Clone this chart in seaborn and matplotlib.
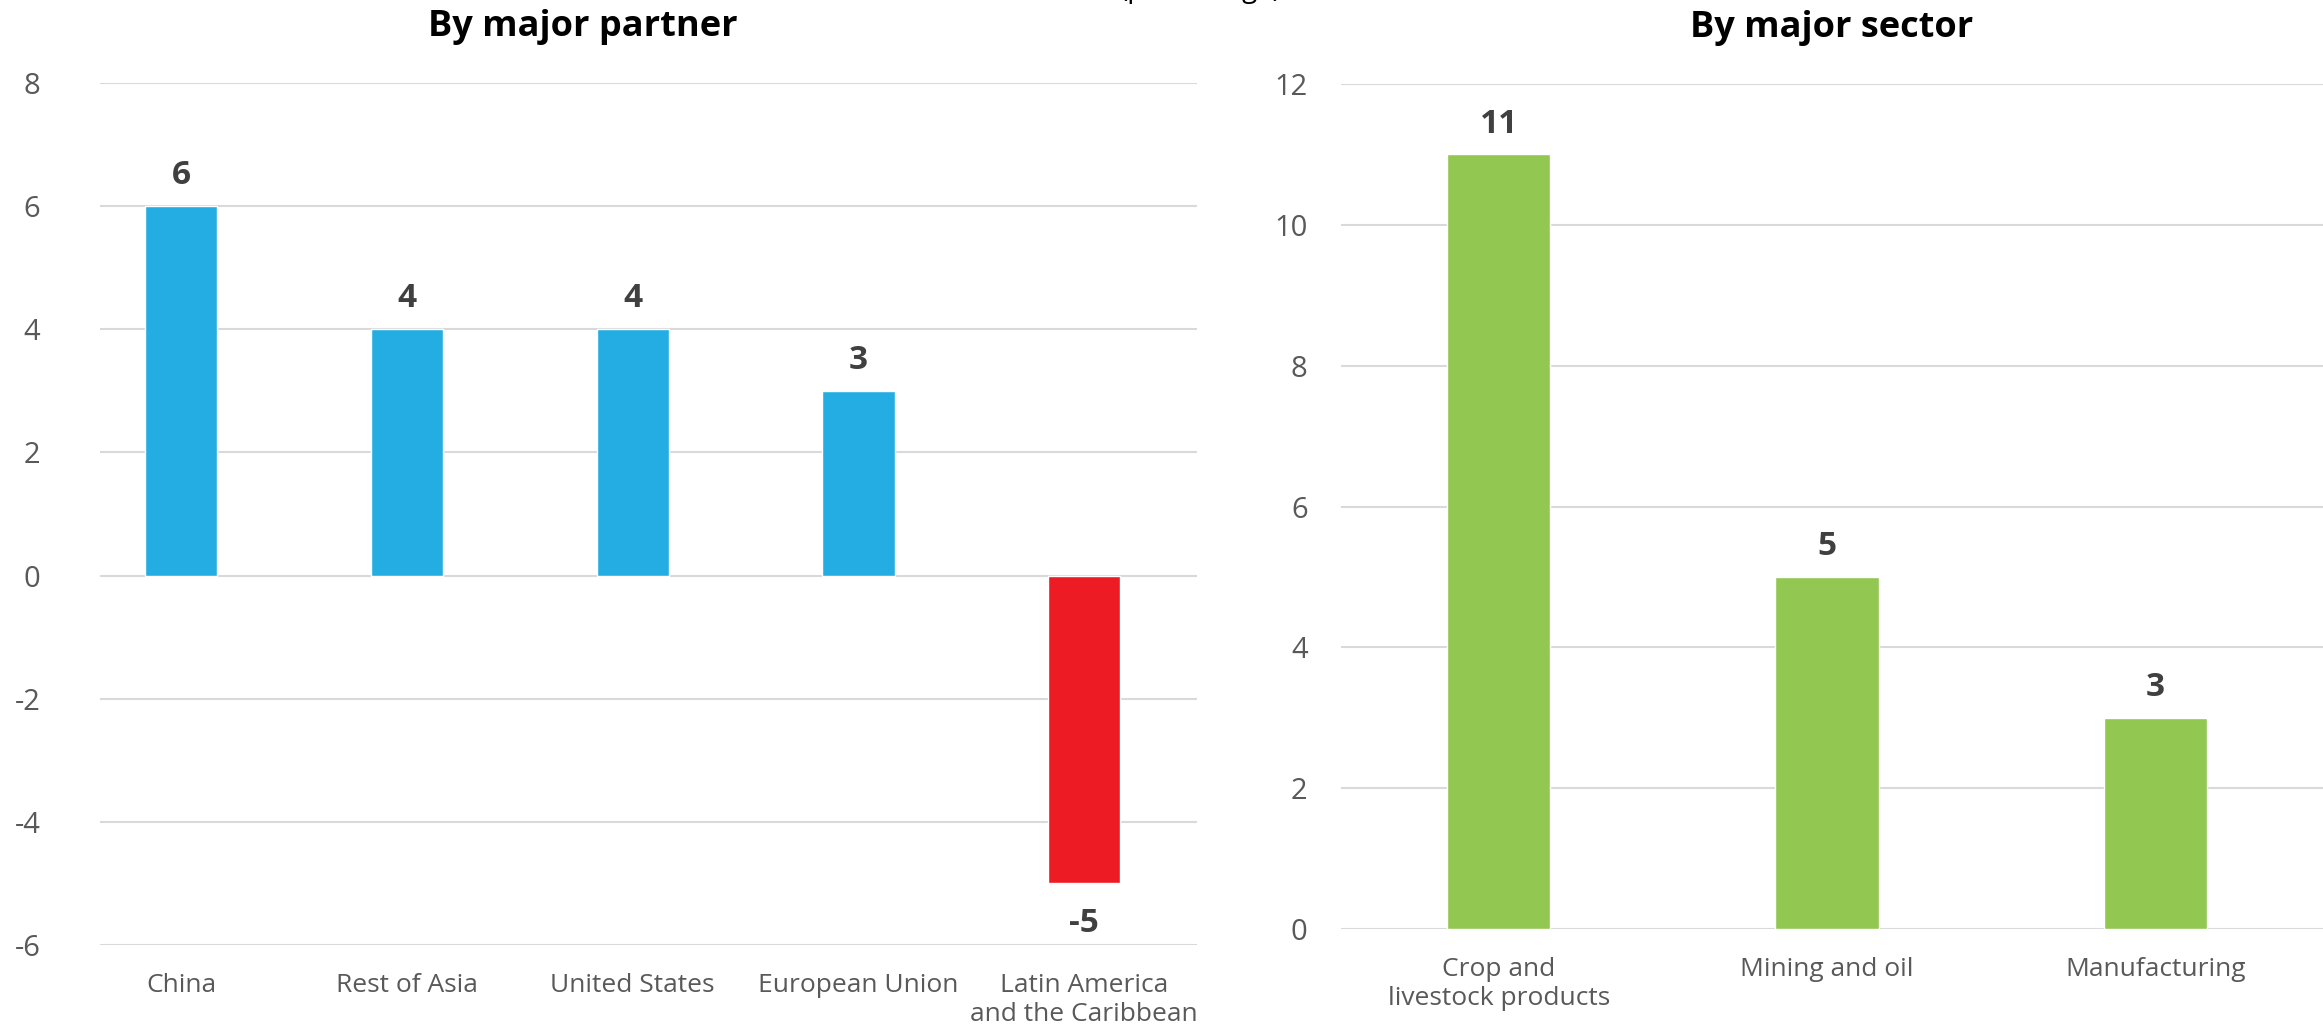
import matplotlib
matplotlib.use("Agg")
import matplotlib.pyplot as plt
import seaborn as sns
import pandas as pd

partners = ["China", "Rest of Asia", "United States", "European Union", "Latin America\nand the Caribbean"]
partner_values = [6, 4, 4, 3, -5]
partner_colors = ["#23ADE3", "#23ADE3", "#23ADE3", "#23ADE3", "#ED1C24"]

sectors = ["Crop and\nlivestock products", "Mining and oil", "Manufacturing"]
sector_values = [11, 5, 3]
sector_colors = ["#92C851", "#92C851", "#92C851"]

left_ticks = [-6, -4, -2, 0, 2, 4, 6, 8]
right_ticks = [0, 2, 4, 6, 8, 10, 12]

sns.set_theme(style="white")
plt.rcParams['font.family'] = ['Open Sans', 'DejaVu Sans']
plt.rcParams['axes.unicode_minus'] = False

fig = plt.figure(figsize=(23.23, 10.35), dpi=100)
axL = fig.add_axes([100/2323, 1-945/1035, (1197-100)/2323, (945-83)/1035])
axR = fig.add_axes([1341/2323, 1-929/1035, (2323-1341)/2323, (929-84)/1035])

dfL = pd.DataFrame({"cat": partners, "val": partner_values})
dfR = pd.DataFrame({"cat": sectors, "val": sector_values})

sns.barplot(data=dfL, x="cat", y="val", hue="cat", palette=partner_colors,
            legend=False, width=0.32, ax=axL, saturation=1, zorder=3)
sns.barplot(data=dfR, x="cat", y="val", hue="cat", palette=sector_colors,
            legend=False, width=0.315, ax=axR, saturation=1, zorder=3)

for ax, ticks, pad_y, xl in [(axL, left_ticks, 43, (-0.36, 4.5)), (axR, right_ticks, 24, (-0.48, 2.51))]:
    ax.set_ylim(ticks[0], ticks[-1])
    ax.set_yticks(ticks)
    ax.set_xlim(*xl)
    ax.set_xlabel("")
    ax.set_ylabel("")
    for s in ax.spines.values():
        s.set_visible(False)
    ax.grid(axis="y", color="#D9D9D9", linewidth=1.5, zorder=0)
    ax.grid(axis="x", visible=False)
    ax.set_axisbelow(True)
    ax.tick_params(axis="y", length=0, pad=pad_y, labelsize=21, labelcolor="#595959")
    ax.tick_params(axis="x", length=0, pad=20, labelsize=19, labelcolor="#595959")
    for c in ax.containers:
        neg = all(p.get_height() < 0 for p in c.patches)
        ax.bar_label(c, fmt="%d", padding=17 if neg else 10, fontsize=24,
                     fontweight="bold", color="#404040")
    ax.set_facecolor("white")

axL.set_title("By major partner", fontsize=26, fontweight="bold", color="black", pad=34)
axR.set_title("By major sector", fontsize=26, fontweight="bold", color="black", pad=34)
axL.title.set_position((0.44, 1.0))

fig.text(0.517, 1.003, "(percentage)", ha="center", va="baseline", fontsize=20, color="black")

fig.savefig("out.png", dpi=100, facecolor="white")
